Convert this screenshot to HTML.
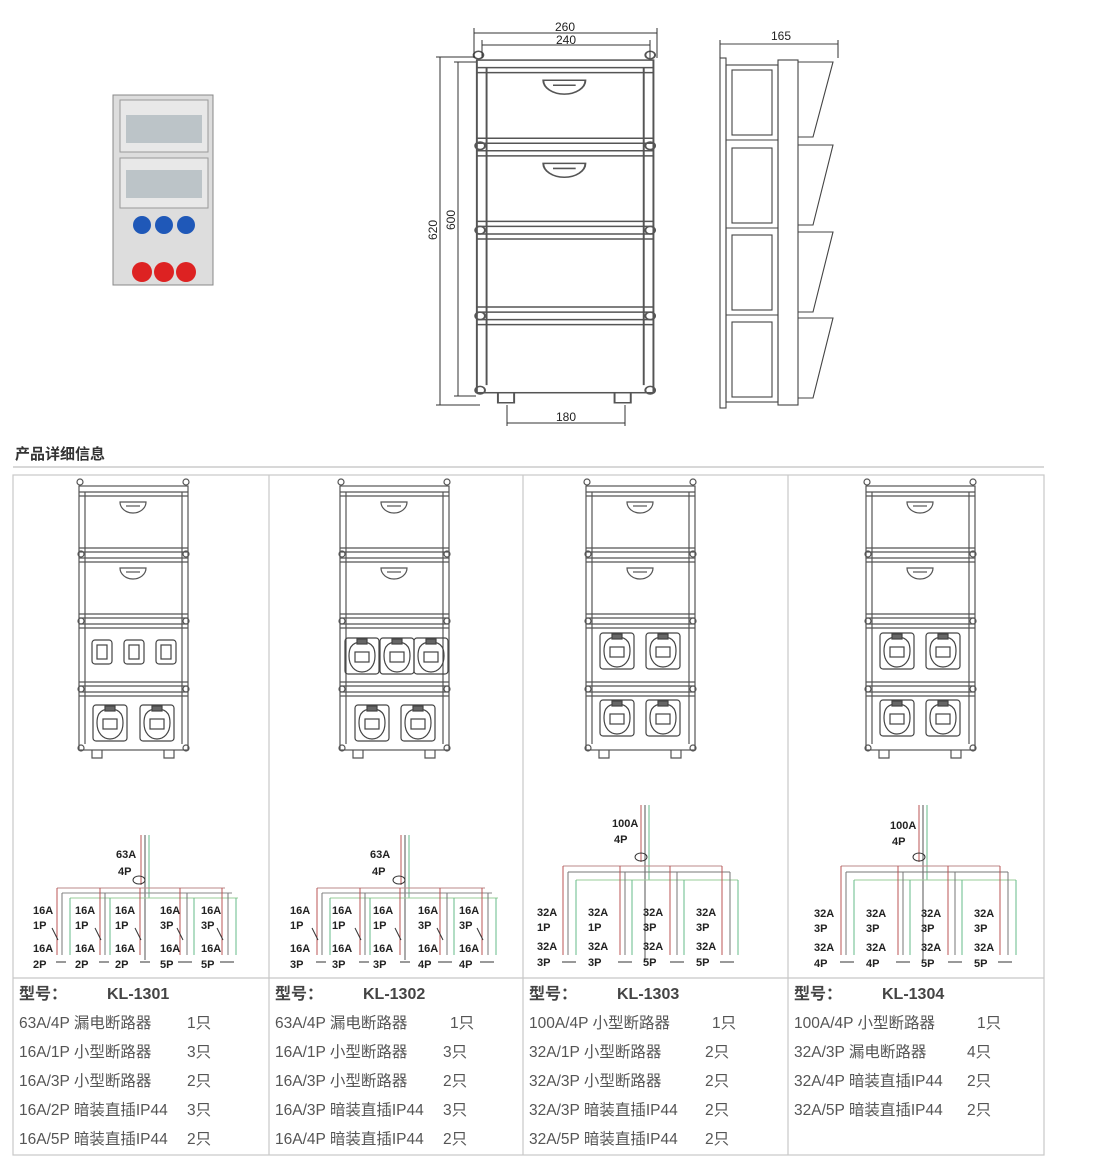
<!DOCTYPE html>
<html><head><meta charset="utf-8"><style>
body{margin:0;background:#fff;}
svg{display:block;font-family:"Liberation Sans","Noto Sans CJK SC",sans-serif;}
.t{font-size:15.5px;fill:#555;}
.m{font-size:16px;fill:#444;font-weight:bold;}
.c{font-size:11px;font-weight:bold;fill:#222;}
.d{font-size:12px;fill:#222;}
</style></head><body>
<svg width="1094" height="1165" viewBox="0 0 1094 1165" xmlns="http://www.w3.org/2000/svg">
<defs>
<g id="cab" fill="none" stroke="#555" stroke-width="1.2">
 <rect x="3" y="8" width="109" height="264"/>
 <line x1="9" y1="14" x2="9" y2="266"/><line x1="106" y1="14" x2="106" y2="266"/>
 <line x1="3" y1="14" x2="112" y2="14"/><line x1="3" y1="18" x2="112" y2="18"/>
 <line x1="3" y1="70" x2="112" y2="70"/><line x1="3" y1="74" x2="112" y2="74"/><line x1="3" y1="80" x2="112" y2="80"/><line x1="3" y1="84" x2="112" y2="84"/>
 <line x1="3" y1="136" x2="112" y2="136"/><line x1="3" y1="140" x2="112" y2="140"/><line x1="3" y1="146" x2="112" y2="146"/><line x1="3" y1="150" x2="112" y2="150"/>
 <line x1="3" y1="204" x2="112" y2="204"/><line x1="3" y1="208" x2="112" y2="208"/><line x1="3" y1="214" x2="112" y2="214"/><line x1="3" y1="218" x2="112" y2="218"/>
 <path d="M44 24 A13 11 0 0 0 70 24 Z"/><path d="M44 90 A13 11 0 0 0 70 90 Z"/>
 <line x1="50" y1="28" x2="64" y2="28"/><line x1="50" y1="94" x2="64" y2="94"/>
 <circle cx="4" cy="4" r="3"/><circle cx="110" cy="4" r="3"/>
 <circle cx="5" cy="76" r="3"/><circle cx="110" cy="76" r="3"/><circle cx="5" cy="143" r="3"/><circle cx="110" cy="143" r="3"/><circle cx="5" cy="211" r="3"/><circle cx="110" cy="211" r="3"/><circle cx="5" cy="270" r="3"/><circle cx="110" cy="270" r="3"/>
 <path d="M16 272 v8 h10 v-8 M88 272 v8 h10 v-8"/>
</g>
<g id="s2" fill="none" stroke="#444" stroke-width="1.2"><rect x="0" y="0" width="20" height="24" rx="3"/><rect x="5" y="5" width="10" height="14"/></g>
<g id="sr" fill="none" stroke="#444" stroke-width="1.2"><rect x="0" y="0" width="34" height="36" rx="3"/><path d="M17 4 c-12 0 -13 8 -13 14 c0 10 6 16 13 16 c7 0 13 -6 13 -16 c0 -6 -1 -14 -13 -14z"/><rect x="10" y="14" width="14" height="10"/><rect x="12" y="1" width="10" height="5" fill="#666"/></g>
</defs>

<!-- photo -->
<g>
<rect x="113" y="95" width="100" height="190" fill="#ddd" stroke="#888"/>
<rect x="120" y="100" width="88" height="52" fill="#e8e8e8" stroke="#999"/>
<rect x="126" y="115" width="76" height="28" fill="#bcc4c8"/>
<rect x="120" y="158" width="88" height="50" fill="#e8e8e8" stroke="#999"/>
<rect x="126" y="170" width="76" height="28" fill="#bcc4c8"/>
<circle cx="142" cy="225" r="9" fill="#1f58b8"/><circle cx="164" cy="225" r="9" fill="#1f58b8"/><circle cx="186" cy="225" r="9" fill="#1f58b8"/>
<circle cx="142" cy="272" r="10" fill="#d22"/><circle cx="164" cy="272" r="10" fill="#d22"/><circle cx="186" cy="272" r="10" fill="#d22"/>
</g>

<!-- front view -->
<g transform="translate(472,50) scale(1.62,1.26)"><use href="#cab"/></g>
<g stroke="#333" stroke-width="1" fill="none">
<line x1="474" y1="33" x2="657" y2="33"/><line x1="474" y1="28" x2="474" y2="58"/><line x1="657" y1="28" x2="657" y2="58"/>
<line x1="482" y1="45" x2="650" y2="45"/><line x1="482" y1="40" x2="482" y2="58"/><line x1="650" y1="40" x2="650" y2="58"/>
<line x1="440" y1="57" x2="440" y2="405"/><line x1="436" y1="57" x2="475" y2="57"/><line x1="436" y1="405" x2="480" y2="405"/>
<line x1="458" y1="62" x2="458" y2="396"/><line x1="454" y1="62" x2="476" y2="62"/><line x1="454" y1="396" x2="476" y2="396"/>
<line x1="507" y1="423" x2="625" y2="423"/><line x1="507" y1="405" x2="507" y2="426"/><line x1="625" y1="405" x2="625" y2="426"/>
</g>
<text x="565" y="31" class="d" text-anchor="middle">260</text>
<text x="566" y="44" class="d" text-anchor="middle">240</text>
<text x="566" y="421" class="d" text-anchor="middle">180</text>
<text transform="translate(437,230) rotate(-90)" class="d" text-anchor="middle">620</text>
<text transform="translate(455,220) rotate(-90)" class="d" text-anchor="middle">600</text>

<!-- side view -->
<g stroke="#444" stroke-width="1.1" fill="none">
<line x1="720" y1="44" x2="838" y2="44"/><line x1="720" y1="40" x2="720" y2="58"/><line x1="838" y1="40" x2="838" y2="58"/>
<rect x="720" y="58" width="6" height="350"/>
<rect x="726" y="65" width="52" height="337"/>
<line x1="778" y1="60" x2="798" y2="60"/><rect x="778" y="60" width="20" height="345"/>
<path d="M798 62 h35 l-20 75 h-15 M798 145 h35 l-20 80 h-15 M798 232 h35 l-20 80 h-15 M798 318 h35 l-20 80 h-15"/>
<line x1="726" y1="140" x2="778" y2="140"/><line x1="726" y1="228" x2="778" y2="228"/><line x1="726" y1="315" x2="778" y2="315"/>
<rect x="732" y="70" width="40" height="65"/><rect x="732" y="148" width="40" height="75"/><rect x="732" y="235" width="40" height="75"/><rect x="732" y="322" width="40" height="75"/>
</g>
<text x="781" y="40" class="d" text-anchor="middle">165</text>

<!-- header -->
<text x="15" y="459" style="font-size:15px;font-weight:bold;fill:#333">产品详细信息</text>
<line x1="13" y1="467" x2="1044" y2="467" stroke="#ccc" stroke-width="1.5"/>

<!-- table -->
<g stroke="#c8c8c8" stroke-width="1.2" fill="none">
<rect x="13" y="475" width="1031" height="680"/>
<line x1="269" y1="475" x2="269" y2="1155"/><line x1="523" y1="475" x2="523" y2="1155"/><line x1="788" y1="475" x2="788" y2="1155"/>
<line x1="13" y1="978" x2="1044" y2="978"/>
</g>

<!-- cabinets -->
<use href="#cab" transform="translate(76,478)"/>
<use href="#cab" transform="translate(337,478)"/>
<use href="#cab" transform="translate(583,478)"/>
<use href="#cab" transform="translate(863,478)"/>
<!-- col1 sockets -->
<use href="#s2" x="92" y="640"/><use href="#s2" x="124" y="640"/><use href="#s2" x="156" y="640"/>
<use href="#sr" x="93" y="705"/><use href="#sr" x="140" y="705"/>
<!-- col2 -->
<use href="#sr" x="345" y="638"/><use href="#sr" x="380" y="638"/><use href="#sr" x="414" y="638"/>
<use href="#sr" x="355" y="705"/><use href="#sr" x="401" y="705"/>
<!-- col3 -->
<use href="#sr" x="600" y="633"/><use href="#sr" x="646" y="633"/>
<use href="#sr" x="600" y="700"/><use href="#sr" x="646" y="700"/>
<!-- col4 -->
<use href="#sr" x="880" y="633"/><use href="#sr" x="926" y="633"/>
<use href="#sr" x="880" y="700"/><use href="#sr" x="926" y="700"/>

<!-- circuits col1 & col2 -->
<g id="cir1">
<g fill="none" stroke-width="1">
<line x1="141" y1="835" x2="141" y2="885" stroke="#b55"/><line x1="145" y1="835" x2="145" y2="960" stroke="#555"/><line x1="149" y1="835" x2="149" y2="898" stroke="#6b8"/>
<ellipse cx="139" cy="880" rx="6" ry="4" stroke="#333"/>
<path d="M57 888 H225 M62 893 H232 M70 898 H238" stroke="#b88"/>
<path d="M62 893 H232" stroke="#888"/><path d="M70 898 H238" stroke="#9c9"/>
<path d="M57 888 V955 M100 888 V955 M140 888 V955 M180 888 V955 M222 888 V955" stroke="#b55"/>
<path d="M62 893 V955 M105 893 V955 M187 893 V955 M228 893 V955" stroke="#777"/>
<path d="M70 898 V955 M110 898 V955 M194 898 V955 M236 898 V955" stroke="#6b8"/>
<path d="M52 928 l6 12 M95 928 l6 12 M135 928 l6 12 M177 928 l6 12 M217 928 l6 12" stroke="#333"/>
<path d="M56 962 h10 M99 962 h10 M140 962 h10 M178 962 h14 M220 962 h14" stroke="#333"/>
</g>
<g class="c"><text x="116" y="858">63A</text><text x="118" y="875">4P</text>
<text x="33" y="914">16A</text><text x="75" y="914">16A</text><text x="115" y="914">16A</text><text x="160" y="914">16A</text><text x="201" y="914">16A</text>
<text x="33" y="929">1P</text><text x="75" y="929">1P</text><text x="115" y="929">1P</text><text x="160" y="929">3P</text><text x="201" y="929">3P</text>
<text x="33" y="952">16A</text><text x="75" y="952">16A</text><text x="115" y="952">16A</text><text x="160" y="952">16A</text><text x="201" y="952">16A</text>
<text x="33" y="968">2P</text><text x="75" y="968">2P</text><text x="115" y="968">2P</text><text x="160" y="968">5P</text><text x="201" y="968">5P</text></g>
</g>
<g transform="translate(260,0)">
<g fill="none" stroke-width="1">
<line x1="141" y1="835" x2="141" y2="885" stroke="#b55"/><line x1="145" y1="835" x2="145" y2="960" stroke="#555"/><line x1="149" y1="835" x2="149" y2="898" stroke="#6b8"/>
<ellipse cx="139" cy="880" rx="6" ry="4" stroke="#333"/>
<path d="M57 888 H225" stroke="#b88"/><path d="M62 893 H232" stroke="#888"/><path d="M70 898 H238" stroke="#9c9"/>
<path d="M57 888 V955 M100 888 V955 M140 888 V955 M180 888 V955 M222 888 V955" stroke="#b55"/>
<path d="M62 893 V955 M105 893 V955 M187 893 V955 M228 893 V955" stroke="#777"/>
<path d="M70 898 V955 M110 898 V955 M194 898 V955 M236 898 V955" stroke="#6b8"/>
<path d="M52 928 l6 12 M95 928 l6 12 M135 928 l6 12 M177 928 l6 12 M217 928 l6 12" stroke="#333"/>
<path d="M56 962 h10 M99 962 h10 M140 962 h10 M178 962 h14 M220 962 h14" stroke="#333"/>
</g>
<g class="c"><text x="110" y="858">63A</text><text x="112" y="875">4P</text>
<text x="30" y="914">16A</text><text x="72" y="914">16A</text><text x="113" y="914">16A</text><text x="158" y="914">16A</text><text x="199" y="914">16A</text>
<text x="30" y="929">1P</text><text x="72" y="929">1P</text><text x="113" y="929">1P</text><text x="158" y="929">3P</text><text x="199" y="929">3P</text>
<text x="30" y="952">16A</text><text x="72" y="952">16A</text><text x="113" y="952">16A</text><text x="158" y="952">16A</text><text x="199" y="952">16A</text>
<text x="30" y="968">3P</text><text x="72" y="968">3P</text><text x="113" y="968">3P</text><text x="158" y="968">4P</text><text x="199" y="968">4P</text></g>
</g>
<!-- col3 -->
<g>
<g fill="none" stroke-width="1">
<line x1="641" y1="805" x2="641" y2="862" stroke="#b55"/><line x1="645" y1="805" x2="645" y2="960" stroke="#555"/><line x1="649" y1="805" x2="649" y2="880" stroke="#6b8"/>
<ellipse cx="641" cy="857" rx="6" ry="4" stroke="#333"/>
<path d="M563 866 H722" stroke="#b88"/><path d="M568 872 H730" stroke="#777"/><path d="M576 880 H738" stroke="#9c9"/>
<path d="M563 866 V955 M620 866 V955 M670 866 V955 M722 866 V955" stroke="#b55"/>
<path d="M568 872 V955 M625 872 V955 M677 872 V955 M730 872 V955" stroke="#777"/>
<path d="M576 880 V955 M632 880 V955 M684 880 V955 M738 880 V955" stroke="#6b8"/>
<path d="M562 962 h14 M618 962 h14 M670 962 h14 M720 962 h14" stroke="#333"/>
</g>
<g class="c"><text x="612" y="827">100A</text><text x="614" y="843">4P</text>
<text x="537" y="916">32A</text><text x="588" y="916">32A</text><text x="643" y="916">32A</text><text x="696" y="916">32A</text>
<text x="537" y="931">1P</text><text x="588" y="931">1P</text><text x="643" y="931">3P</text><text x="696" y="931">3P</text>
<text x="537" y="950">32A</text><text x="588" y="950">32A</text><text x="643" y="950">32A</text><text x="696" y="950">32A</text>
<text x="537" y="966">3P</text><text x="588" y="966">3P</text><text x="643" y="966">5P</text><text x="696" y="966">5P</text></g>
</g>
<!-- col4 -->
<g transform="translate(278,0)">
<g fill="none" stroke-width="1">
<line x1="641" y1="805" x2="641" y2="862" stroke="#b55"/><line x1="645" y1="805" x2="645" y2="960" stroke="#555"/><line x1="649" y1="805" x2="649" y2="880" stroke="#6b8"/>
<ellipse cx="641" cy="857" rx="6" ry="4" stroke="#333"/>
<path d="M563 866 H722" stroke="#b88"/><path d="M568 872 H730" stroke="#777"/><path d="M576 880 H738" stroke="#9c9"/>
<path d="M563 866 V955 M620 866 V955 M670 866 V955 M722 866 V955" stroke="#b55"/>
<path d="M568 872 V955 M625 872 V955 M677 872 V955 M730 872 V955" stroke="#777"/>
<path d="M576 880 V955 M632 880 V955 M684 880 V955 M738 880 V955" stroke="#6b8"/>
<path d="M562 962 h14 M618 962 h14 M670 962 h14 M720 962 h14" stroke="#333"/>
</g>
<g class="c"><text x="612" y="829">100A</text><text x="614" y="845">4P</text>
<text x="536" y="917">32A</text><text x="588" y="917">32A</text><text x="643" y="917">32A</text><text x="696" y="917">32A</text>
<text x="536" y="932">3P</text><text x="588" y="932">3P</text><text x="643" y="932">3P</text><text x="696" y="932">3P</text>
<text x="536" y="951">32A</text><text x="588" y="951">32A</text><text x="643" y="951">32A</text><text x="696" y="951">32A</text>
<text x="536" y="967">4P</text><text x="588" y="967">4P</text><text x="643" y="967">5P</text><text x="696" y="967">5P</text></g>
</g>

<!-- text rows -->
<g class="m"><text x="19" y="999">型号：</text><text x="107" y="999">KL-1301</text>
<text x="275" y="999">型号：</text><text x="363" y="999">KL-1302</text>
<text x="529" y="999">型号：</text><text x="617" y="999">KL-1303</text>
<text x="794" y="999">型号：</text><text x="882" y="999">KL-1304</text></g>
<g class="t">
<text x="19" y="1028">63A/4P 漏电断路器</text><text x="187" y="1028">1只</text>
<text x="19" y="1057">16A/1P 小型断路器</text><text x="187" y="1057">3只</text>
<text x="19" y="1086">16A/3P 小型断路器</text><text x="187" y="1086">2只</text>
<text x="19" y="1115">16A/2P 暗装直插IP44</text><text x="187" y="1115">3只</text>
<text x="19" y="1144">16A/5P 暗装直插IP44</text><text x="187" y="1144">2只</text>
<text x="275" y="1028">63A/4P 漏电断路器</text><text x="450" y="1028">1只</text>
<text x="275" y="1057">16A/1P 小型断路器</text><text x="443" y="1057">3只</text>
<text x="275" y="1086">16A/3P 小型断路器</text><text x="443" y="1086">2只</text>
<text x="275" y="1115">16A/3P 暗装直插IP44</text><text x="443" y="1115">3只</text>
<text x="275" y="1144">16A/4P 暗装直插IP44</text><text x="443" y="1144">2只</text>
<text x="529" y="1028">100A/4P 小型断路器</text><text x="712" y="1028">1只</text>
<text x="529" y="1057">32A/1P 小型断路器</text><text x="705" y="1057">2只</text>
<text x="529" y="1086">32A/3P 小型断路器</text><text x="705" y="1086">2只</text>
<text x="529" y="1115">32A/3P 暗装直插IP44</text><text x="705" y="1115">2只</text>
<text x="529" y="1144">32A/5P 暗装直插IP44</text><text x="705" y="1144">2只</text>
<text x="794" y="1028">100A/4P 小型断路器</text><text x="977" y="1028">1只</text>
<text x="794" y="1057">32A/3P 漏电断路器</text><text x="967" y="1057">4只</text>
<text x="794" y="1086">32A/4P 暗装直插IP44</text><text x="967" y="1086">2只</text>
<text x="794" y="1115">32A/5P 暗装直插IP44</text><text x="967" y="1115">2只</text>
</g>
</svg>
</body></html>
